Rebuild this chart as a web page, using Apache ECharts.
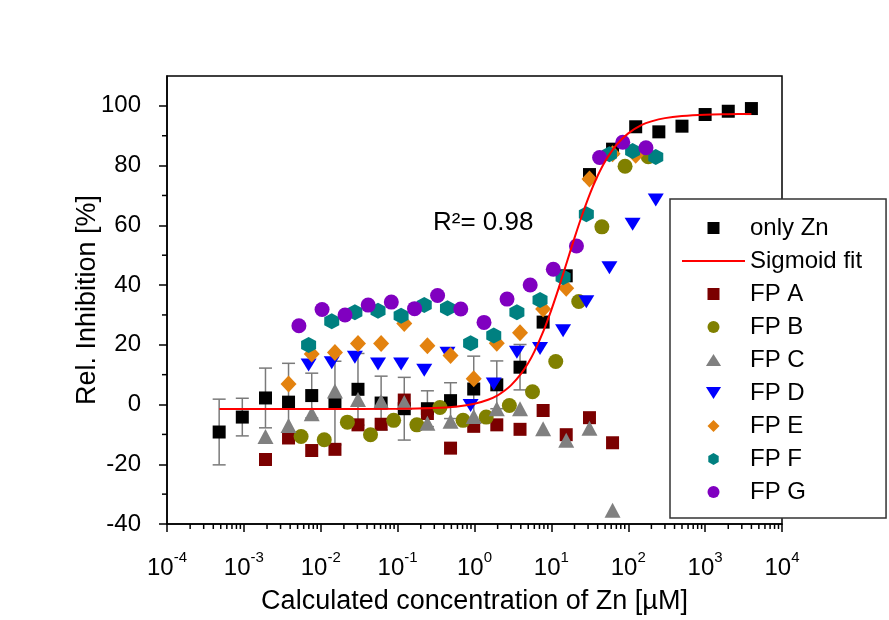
<!DOCTYPE html>
<html><head><meta charset="utf-8">
<script src="https://cdn.jsdelivr.net/npm/echarts@6/dist/echarts.min.js"></script>
<style>html,body{margin:0;padding:0;background:#fff}#c{width:889px;height:620px}</style>
</head><body><div id="c"></div>
<script>
// ---- data ----
const znX = [0.000477, 0.000954, 0.00191, 0.00381, 0.00763, 0.0153, 0.0305, 0.061, 0.122, 0.244, 0.488, 0.977, 1.95, 3.91, 7.81, 15.6, 31.3, 62.5, 125, 250, 500, 1000, 2000, 4000];
const znY = [-9.2, -4.2, 2.2, 0.8, 3.0, 0.5, 5.1, 0.5, -1.4, -1.4, 1.3, 5.2, 6.6, 12.5, 27.6, 43.1, 77.0, 85.5, 93.0, 91.3, 93.2, 97.1, 98.2, 99.1];
const znErr = [11, 6.3, 10, 13, 7.5, 14, 12, 9, 10.5, 6, 6, 11, 8, 7.6, 0, 0, 0, 0, 0, 0, 0, 0, 0, 0];

const fitX = [0.00048, 0.01, 0.1, 0.3, 0.6, 1, 1.5, 2, 2.5, 3, 4, 5, 6, 8, 10, 12, 13, 16, 20, 25, 32, 40, 50, 70, 100, 150, 200, 300, 500, 1000, 2000, 4000];
const fitY = [-1.5, -1.5, -1.45, -1.2, -0.65, 0.25, 1.6, 3.1, 4.8, 6.5, 10.2, 13.9, 17.7, 25.0, 31.7, 37.7, 40.5, 47.9, 55.8, 63.3, 70.8, 76.6, 81.4, 86.9, 90.8, 93.6, 94.8, 95.9, 96.6, 97.05, 97.2, 97.3];

const fpAX = [0.00191, 0.00381, 0.00763, 0.0153, 0.0305, 0.061, 0.122, 0.244, 0.488, 0.977, 1.95, 3.91, 7.81, 15.6, 31.3, 62.5];
const fpAY = [-18.4, -11.2, -15.4, -15.0, -6.8, -6.6, 1.5, -3.0, -14.6, -7.3, -6.8, -8.3, -2.0, -10.1, -4.4, -12.8];
const fpBX = [0.00555, 0.0111, 0.0222, 0.0444, 0.0888, 0.178, 0.355, 0.71, 1.42, 2.84, 5.68, 11.4, 22.7, 45.4, 90.9, 182];
const fpBY = [-10.7, -11.8, -5.9, -10.1, -5.3, -6.8, -1.0, -5.3, -4.2, -0.3, 4.3, 14.4, 34.5, 59.5, 79.8, 83.0];
const fpCX = [0.00191, 0.00381, 0.00763, 0.0153, 0.0305, 0.061, 0.122, 0.244, 0.488, 0.977, 1.95, 3.91, 7.81, 15.6, 31.3, 62.5];
const fpCY = [-10.7, -7.0, -3.1, 4.5, 1.7, 1.0, 0.7, -6.3, -5.6, -4.0, -1.4, -1.4, -8.1, -12.0, -7.9, -35.4];
const fpDX = [0.00695, 0.0139, 0.0278, 0.0556, 0.111, 0.222, 0.445, 0.89, 1.78, 3.56, 7.12, 14.2, 28.5, 56.9, 114, 228];
const fpDY = [13.2, 14.0, 15.8, 13.6, 13.6, 11.5, 17.2, -0.3, 6.9, 17.5, 18.8, 24.7, 34.4, 45.8, 60.4, 68.5];
const fpEX = [0.00381, 0.00763, 0.0153, 0.0305, 0.061, 0.122, 0.244, 0.488, 0.977, 1.95, 3.91, 7.81, 15.6, 31.3, 62.5, 125];
const fpEY = [6.9, 16.9, 17.4, 20.4, 20.4, 27.1, 19.7, 16.4, 8.6, 20.5, 24.0, 32.0, 38.9, 75.5, 84.0, 83.5];
const fpFX = [0.00695, 0.0139, 0.0278, 0.0556, 0.111, 0.222, 0.445, 0.89, 1.78, 3.56, 7.12, 14.2, 28.5, 56.9, 114, 228];
const fpFY = [19.9, 27.9, 30.9, 31.4, 29.7, 33.3, 32.2, 20.5, 23.1, 30.9, 35.0, 42.6, 63.7, 83.8, 84.9, 82.9];
const fpGX = [0.0052, 0.0104, 0.0207, 0.0414, 0.0828, 0.166, 0.331, 0.663, 1.33, 2.65, 5.3, 10.6, 21.2, 42.4, 84.8, 170];
const fpGY = [26.4, 31.8, 30.0, 33.3, 34.3, 32.1, 36.5, 32.0, 27.5, 35.3, 40.0, 45.3, 53.1, 82.7, 87.8, 86.0];

const xMajorTicks = [1e-4, 1e-3, 1e-2, 1e-1, 1, 10, 100, 1000, 10000];
const yMajorTicks = [-40, -20, 0, 20, 40, 60, 80, 100];
const yMinorTicks = [-30, -10, 10, 30, 50, 70, 90];
const xMinorTicks = [];
for (let e = -4; e < 4; e++) for (let m = 2; m <= 9; m++) xMinorTicks.push(m * Math.pow(10, e));

const FONT = '"Liberation Sans", Arial, sans-serif';
const Y_MIN = -40, Y_MAX = 110, X_MIN = 1e-4, X_MAX = 1e4;

const pairs = (xs, ys) => xs.map((x, i) => [x, ys[i]]);
const hexagon = 'path://M0,-1 L0.866,-0.5 L0.866,0.5 L0,1 L-0.866,0.5 L-0.866,-0.5 Z';
const ICON = {
  square: 'path://M0,0 L10,0 L10,10 L0,10 Z',
  line: 'path://M0,0 L63,0 L63,2 L0,2 Z',
  up: 'path://M6,0 L12,9.5 L0,9.5 Z',
  down: 'path://M0,0 L12,0 L6,9.5 Z',
  diamond: 'path://M6.5,0 L13,6.5 L6.5,13 L0,6.5 Z'
};

const chart = echarts.init(document.getElementById('c'), null, {renderer: 'canvas'});

function scatter(name, xs, ys, color, symbol, size, extra) {
  return Object.assign({
    type: 'scatter', name, data: pairs(xs, ys), symbol, symbolSize: size,
    itemStyle: {color, opacity: 1}, z: 3, emphasis: {disabled: true}
  }, extra || {});
}

const option = {
  animation: false,
  backgroundColor: '#ffffff',
  textStyle: {fontFamily: FONT},
  grid: {left: 167, top: 76, width: 615, height: 450, show: true, borderColor: '#000', borderWidth: 1.5, backgroundColor: 'transparent'},
  xAxis: {
    type: 'log', logBase: 10, min: X_MIN, max: X_MAX,
    name: 'Calculated concentration of Zn [µM]', nameLocation: 'middle', nameGap: 64, nameMoveOverlap: false,
    nameTextStyle: {fontSize: 27, color: '#000', fontFamily: FONT},
    axisLine: {onZero: false, lineStyle: {color: '#000', width: 1.5}},
    axisTick: {show: true, customValues: xMajorTicks, length: 8, inside: false, lineStyle: {color: '#000', width: 1.5}},
    axisLabel: {
      customValues: xMajorTicks, margin: 26, color: '#000',
      formatter: v => '{b|10}{s|' + Math.round(Math.log10(v)) + '}',
      rich: {
        b: {fontSize: 24, fontFamily: FONT, color: '#000', lineHeight: 30, verticalAlign: 'bottom'},
        s: {fontSize: 15, fontFamily: FONT, color: '#000', lineHeight: 15, verticalAlign: 'top'}
      }
    },
    splitLine: {show: false}, minorTick: {show: false}
  },
  yAxis: {
    type: 'value', min: Y_MIN, max: Y_MAX,
    name: 'Rel. Inhibition [%]', nameLocation: 'middle', nameGap: 66, nameMoveOverlap: false,
    nameTextStyle: {fontSize: 27, color: '#000', fontFamily: FONT},
    axisLine: {show: true, onZero: false, lineStyle: {color: '#000', width: 1.5}},
    axisTick: {show: true, customValues: yMajorTicks, length: 8, lineStyle: {color: '#000', width: 1.5}},
    axisLabel: {customValues: yMajorTicks, fontSize: 24, color: '#000', margin: 26, fontFamily: FONT},
    splitLine: {show: false}
  },
  legend: {
    orient: 'vertical', left: 670, top: 199, padding: [17, 24, 14, 12],
    itemWidth: 63, itemHeight: 12, itemGap: 9,
    backgroundColor: '#fff', borderColor: '#333', borderWidth: 1.5, borderRadius: 0,
    textStyle: {fontSize: 24, color: '#000', fontFamily: FONT, lineHeight: 24},
    data: [
      {name: 'only Zn', icon: ICON.square},
      {name: 'Sigmoid fit', icon: ICON.line},
      {name: 'FP A', icon: ICON.square},
      {name: 'FP B', icon: 'circle'},
      {name: 'FP C', icon: ICON.up},
      {name: 'FP D', icon: ICON.down},
      {name: 'FP E', icon: ICON.diamond},
      {name: 'FP F', icon: hexagon},
      {name: 'FP G', icon: 'circle'}
    ],
    selectedMode: false, z: 10
  },
  graphic: [{
    type: 'text', left: 433, top: 210, z: 20,
    style: {text: 'R²= 0.98', font: '26px ' + FONT, fill: '#000'}
  }],
  series: [
    {
      type: 'custom', name: 'err', z: 1, silent: true, clip: false,
      data: znX.map((x, i) => [x, znY[i], znErr[i]]),
      renderItem(params, api) {
        const x = api.value(0), y = api.value(1), e = api.value(2);
        if (!e) return null;
        const t = api.coord([x, y + e]), b = api.coord([x, y - e]);
        const w = 6.5, st = {stroke: '#7a7a7a', lineWidth: 1.5};
        return {type: 'group', children: [
          {type: 'line', shape: {x1: t[0], y1: t[1], x2: b[0], y2: b[1]}, style: st},
          {type: 'line', shape: {x1: t[0] - w, y1: t[1], x2: t[0] + w, y2: t[1]}, style: st},
          {type: 'line', shape: {x1: b[0] - w, y1: b[1], x2: b[0] + w, y2: b[1]}, style: st}
        ]};
      }
    },
    scatter('only Zn', znX, znY, '#000000', 'rect', 13),
    scatter('FP A', fpAX, fpAY, '#7b0000', 'rect', 13),
    scatter('FP B', fpBX, fpBY, '#808000', 'circle', 15),
    scatter('FP C', fpCX, fpCY, '#808080', 'triangle', [16, 15]),
    scatter('FP D', fpDX, fpDY, '#0000ff', 'triangle', [16, 13], {symbolRotate: 180}),
    scatter('FP E', fpEX, fpEY, '#e3820f', 'diamond', [16, 17]),
    scatter('FP F', fpFX, fpFY, '#008080', hexagon, [15, 16]),
    scatter('FP G', fpGX, fpGY, '#8000c0', 'circle', 15),
    {
      type: 'line', name: 'Sigmoid fit', data: pairs(fitX, fitY), smooth: 0.3,
      symbol: 'none', showSymbol: false, z: 5,
      lineStyle: {color: '#ff0000', width: 2}, itemStyle: {color: '#ff0000'}
    },
    {
      type: 'custom', name: 'xminor', silent: true, clip: false, z: 2,
      data: xMinorTicks.map(v => [v, Y_MIN]),
      renderItem(params, api) {
        const c = api.coord([api.value(0), api.value(1)]);
        return {type: 'line', shape: {x1: c[0], y1: c[1], x2: c[0], y2: c[1] + 5}, style: {stroke: '#000', lineWidth: 1.5}};
      }
    },
    {
      type: 'custom', name: 'yminor', silent: true, clip: false, z: 2,
      data: yMinorTicks.map(v => [X_MIN, v]),
      renderItem(params, api) {
        const c = api.coord([api.value(0), api.value(1)]);
        return {type: 'line', shape: {x1: c[0], y1: c[1], x2: c[0] - 5, y2: c[1]}, style: {stroke: '#000', lineWidth: 1.5}};
      }
    }
  ]
};
chart.setOption(option);
</script></body></html>
